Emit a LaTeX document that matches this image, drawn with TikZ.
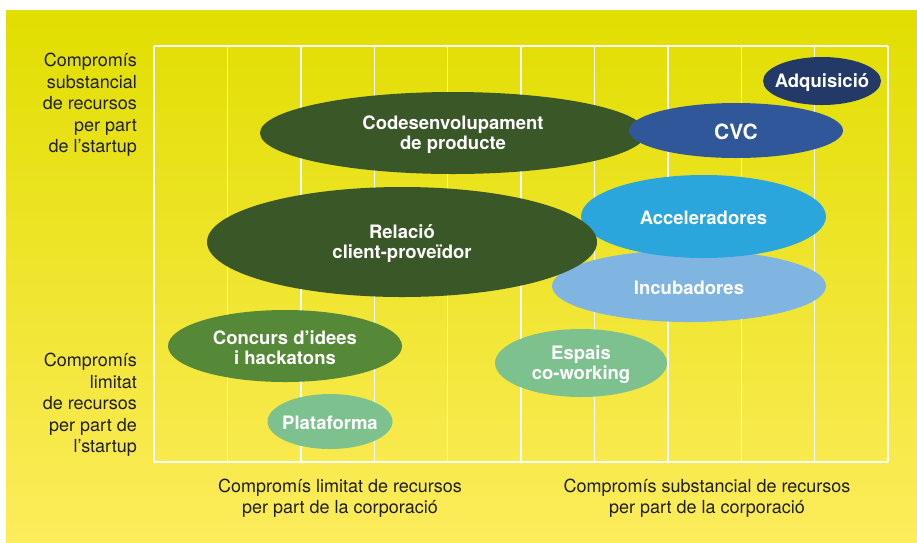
\documentclass[tikz,border=0pt]{standalone}
\usepackage{fontspec}
\setmainfont{TeX Gyre Heros}
\usetikzlibrary{shapes.geometric}
\definecolor{bgtop}{HTML}{E1DE00}
\definecolor{bgbot}{HTML}{FDEC5C}
\definecolor{dkgreen}{HTML}{3A5728}
\definecolor{cvcblue}{HTML}{305799}
\definecolor{navy}{HTML}{233A69}
\definecolor{skyblue}{HTML}{2AA6DC}
\definecolor{lightblue}{HTML}{80B5E2}
\definecolor{midgreen}{HTML}{558837}
\definecolor{mint}{HTML}{7DC28E}
\definecolor{txt}{HTML}{1E1E1E}
\tikzset{
  elli/.style={ellipse, inner sep=0pt, outer sep=0pt},
  etext/.style={text=white, align=center, inner sep=0pt, yshift=-1.8pt,
    font=\fontsize{18.5}{19.5}\selectfont\bfseries},
  axlab/.style={text=txt, font=\fontsize{18}{21.5}\selectfont, inner sep=0pt},
  gridline/.style={white, line width=1.4pt},
}
\begin{document}
\begin{tikzpicture}[x=1pt,y=-1pt]
\useasboundingbox (0,0) rectangle (917,542);
\shade[top color=bgtop, bottom color=bgbot] (6,10) rectangle (917,542);
% grid
\foreach \k in {0,...,10} {
  \draw[gridline] ({154+\k*73.4},46) -- ({154+\k*73.4},462);
}
\draw[gridline] (154,46) -- (888,46);
\draw[gridline] (154,462) -- (888,462);
% ellipses
\node[elli, fill=dkgreen, minimum width=386pt, minimum height=82pt] (codes) at (453,133) {};
\node[etext] (codest) at (codes) {Codesenvolupament\\de producte};
\node[elli, fill=cvcblue, minimum width=214pt, minimum height=55pt] (cvc) at (736,130.5) {};
\node[etext, font=\fontsize{21}{22}\selectfont\bfseries] (cvct) at (cvc) {CVC};
\node[elli, fill=navy, minimum width=118pt, minimum height=48pt] (adq) at (822,81) {};
\node[etext] (adqt) at (adq) {Adquisició};
\node[elli, fill=lightblue, minimum width=274pt, minimum height=72pt] (incu) at (689,286) {};
\node[etext] (incut) at (incu) {Incubadores};
\node[elli, fill=skyblue, minimum width=245pt, minimum height=83pt] (acce) at (703.5,216.5) {};
\node[etext] (accet) at (acce) {Acceleradores};
\node[elli, fill=dkgreen, minimum width=390pt, minimum height=110pt] (rel) at (402,242) {};
\node[etext] (relt) at (rel) {Relació\\client-proveïdor};
\node[elli, fill=midgreen, minimum width=234pt, minimum height=72pt] (conc) at (285,346) {};
\node[etext] (conct) at (conc) {Concurs d’idees\\i hackatons};
\node[elli, fill=mint, minimum width=172pt, minimum height=68pt] (esp) at (581,363) {};
\node[etext] (espt) at (esp) {Espais\\co-working};
\node[elli, fill=mint, minimum width=125pt, minimum height=55pt] (plat) at (330,421.5) {};
\node[etext] (platt) at (plat) {Plataforma};
% axis labels
\node[axlab, align=right, anchor=north east] (ltop) at (137,53) {Compromís\\substancial\\de recursos\\per part\\de l’startup};
\node[axlab, align=right, anchor=north east] (lbot) at (137,353) {Compromís\\limitat\\de recursos\\per part de\\l’startup};
\node[axlab, align=center, anchor=north] (bl) at (340,478.5) {Compromís limitat de recursos\\per part de la corporació};
\node[axlab, align=center, anchor=north] (br) at (707,478.5) {Compromís substancial de recursos\\per part de la corporació};
\end{tikzpicture}
\end{document}
